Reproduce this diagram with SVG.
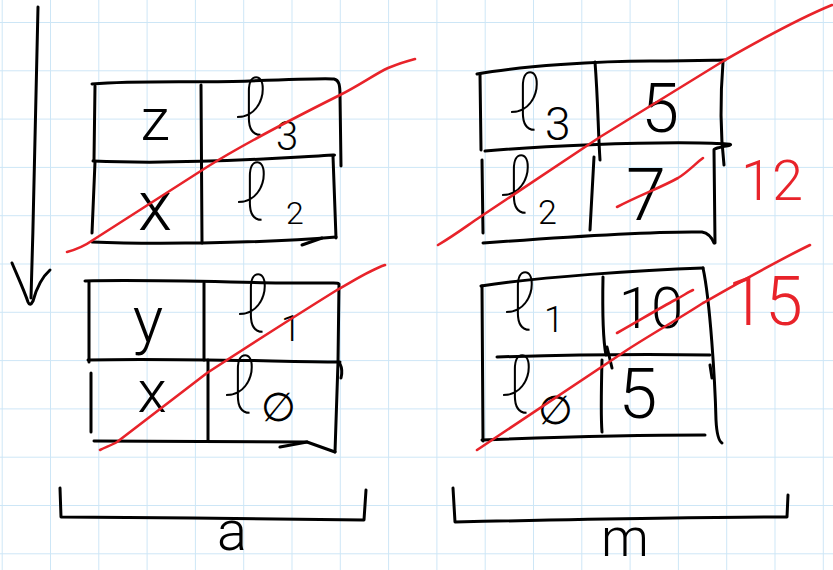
<svg xmlns="http://www.w3.org/2000/svg" width="833" height="570" viewBox="0 0 833 570">
<defs>
<pattern id="grid" patternUnits="userSpaceOnUse" x="1.7" y="22" width="48.3" height="48.3">
<path d="M0,0 H48.3 M0,0 V48.3" fill="none" stroke="#cde6f6" stroke-width="2"/>
</pattern>
<style>
.k{fill:none;stroke:#000;stroke-width:3;stroke-linecap:round;stroke-linejoin:round}
.r{fill:none;stroke:#e8232a;stroke-width:2.6;stroke-linecap:round;stroke-linejoin:round}
.t{font-family:Roboto,"DejaVu Sans",sans-serif;font-weight:300;fill:#000}
.l{font-size:78px;font-weight:100}
.rt{font-family:Roboto,"DejaVu Sans",sans-serif;font-weight:300;fill:#e8232a}
</style>
</defs>
<rect width="833" height="570" fill="#fff"/>
<rect width="833" height="570" fill="url(#grid)"/>

<g id="arrow">
<path class="k" d="M38,7 C36,100 34,200 31,298"/>
<path class="k" d="M12,263 C17,275 24,290 28,302 Q30,307 33,301 C36,290 41,278 50,270"/>
</g>

<g id="table-a-top">
<path class="k" d="M92,84 C140,80 200,83 250,81 S325,78 334,79 C339,80 340,85 340,95 L341,166"/>
<path class="k" d="M95,86 L94,160"/>
<path class="k" d="M201,85 L202,243"/>
<path class="k" d="M93,161 C160,164 250,160 300,157 S330,155 333,156 L336,238"/>
<path class="k" d="M95,162 L92,233"/>
<path class="k" d="M92,242 C140,244 180,243 202,243 C260,242 300,240 336,237"/>
<path class="k" d="M302,245 L322,238"/>
<text class="t" x="155" y="140" font-size="60" text-anchor="middle">z</text>
<text class="t"><tspan class="l" x="234" y="135">ℓ</tspan><tspan font-size="40" x="276" y="150">3</tspan></text>
<text class="t" x="155" y="230" font-size="70" text-anchor="middle">x</text>
<text class="t"><tspan class="l" x="235" y="220">ℓ</tspan><tspan font-size="32" x="286" y="224">2</tspan></text>
</g>

<g id="table-a-bottom">
<path class="k" d="M85,281 C150,279 250,283 300,283 S335,283 339,284 L338,362 L335,452"/>
<path class="k" d="M89,282 L89,362"/>
<path class="k" d="M91,373 L91,432"/>
<path class="k" d="M204,283 L204,360"/>
<path class="k" d="M208,360 L208,440"/>
<path class="k" d="M88,360 C160,358 260,361 340,362"/>
<path class="k" d="M94,441 C180,442 260,442 307,442 L335,452"/>
<path class="k" d="M280,447 L307,442"/>
<path class="k" d="M340,364 Q343,370 341,378"/>
<text class="t" x="148" y="342" font-size="64" text-anchor="middle">y</text>
<text class="t"><tspan class="l" x="236" y="332">ℓ</tspan><tspan font-size="36" x="281" y="341">1</tspan></text>
<text class="t" x="152" y="412" font-size="60" text-anchor="middle">x</text>
<text class="t"><tspan class="l" x="223" y="413">ℓ</tspan><tspan font-size="40" x="261" y="421">∅</tspan></text>
</g>

<g id="bracket-a">
<path class="k" d="M60,488 L61,517 C150,517 300,520 364,520 L366,490"/>
<text class="t" x="232" y="550" font-size="56" text-anchor="middle">a</text>
</g>

<g id="table-m-top">
<path class="k" d="M477,74 C520,66 600,61 650,61 S715,60 725,60"/>
<path class="k" d="M480,74 L481,150"/>
<path class="k" d="M595,62 C598,100 598,130 600,160"/>
<path class="k" d="M723,62 C720,100 720,130 724,165"/>
<path class="k" d="M485,151 C540,146 640,142 700,143 S713,146 714,150 L715,243"/>
<path class="k" d="M482,160 L483,233"/>
<path class="k" d="M594,157 L590,230"/>
<path class="k" d="M483,243 C550,238 650,231 702,232 C708,233 712,238 714,243"/>
<text class="t"><tspan class="l" x="508" y="130">ℓ</tspan><tspan font-size="46" x="545" y="140">3</tspan></text>
<text class="t" x="660" y="132" font-size="68" text-anchor="middle">5</text>
<text class="t"><tspan class="l" x="499" y="213">ℓ</tspan><tspan font-size="34" x="538" y="224">2</tspan></text>
<text class="t" x="646" y="220" font-size="72" text-anchor="middle">7</text>
</g>

<g id="table-m-bottom">
<path class="k" d="M481,286 C540,277 640,270 703,268"/>
<path class="k" d="M482,286 L483,441"/>
<path class="k" d="M603,277 C602,330 604,345 606,355"/>
<path class="k" d="M602,360 C601,400 601,420 602,432"/>
<path class="k" d="M607,347 L612,368"/>
<path class="k" d="M703,268 C710,300 715,380 716,420 Q717,440 722,443"/>
<path class="k" d="M497,357 C560,355 650,354 710,355"/>
<path class="k" d="M710,365 L712,378"/>
<path class="k" d="M482,440 C560,437 650,435 705,435"/>
<text class="t"><tspan class="l" x="503" y="330">ℓ</tspan><tspan font-size="36" x="544" y="332">1</tspan></text>
<text class="t" x="651" y="328" font-size="58" text-anchor="middle">10</text>
<text class="t"><tspan class="l" x="500" y="413">ℓ</tspan><tspan font-size="40" x="538" y="424">∅</tspan></text>
<text class="t" x="638" y="418" font-size="70" text-anchor="middle">5</text>
</g>

<g id="bracket-m">
<path class="k" d="M453,488 L455,522 C550,520 700,517 787,517 L788,495"/>
<text class="t" x="625" y="556" font-size="54" text-anchor="middle">m</text>
</g>

<g id="strikes">
<path class="r" d="M67,252 C78,249 86,245 93,240 L207,167 C250,140 300,115 340,95 C360,85 375,74 388,68 C398,64 407,61 415,59"/>
<path class="r" d="M438,245 C455,235 468,225 480,217 L600,137 C640,112 690,82 725,60 C760,40 800,18 832,5"/>
<path class="r" d="M100,450 C106,447 112,445 117,442 L207,373 C250,345 300,313 337,290 C355,280 370,270 385,265"/>
<path class="r" d="M477,450 L627,350 C650,335 680,318 703,303 C740,282 775,262 810,245"/>
<path class="r" d="M617,207 C640,195 660,188 678,178 C688,172 696,163 703,158"/>
<path class="r" d="M617,333 C640,320 660,308 675,300 C683,296 688,292 693,290"/>
<text class="rt" x="772" y="200" font-size="56" text-anchor="middle">12</text>
<text class="rt" x="765" y="325" font-size="68" text-anchor="middle">15</text>
</g>
</svg>
